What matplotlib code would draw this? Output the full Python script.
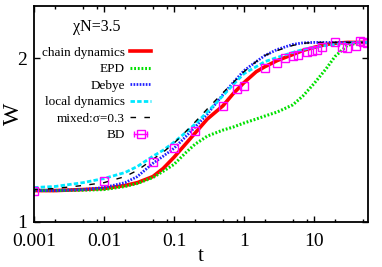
import numpy as np
import matplotlib
matplotlib.use("Agg")
import matplotlib.pyplot as plt
from matplotlib.lines import Line2D
from matplotlib.legend_handler import HandlerLine2D, HandlerTuple
from matplotlib.ticker import FixedLocator, NullFormatter, NullLocator

plt.rcParams['font.family'] = ['Liberation Serif', 'DejaVu Serif']

# --- data ---
t = [0.001, 0.002, 0.005, 0.01, 0.02, 0.03, 0.05, 0.07, 0.1, 0.15, 0.2, 0.3, 0.5,
     0.7, 1, 1.5, 2, 3, 5, 7, 10, 15, 20, 30, 45, 60]

w_chain = [1.142, 1.142, 1.147, 1.152, 1.167, 1.181, 1.212, 1.254, 1.315, 1.396, 1.457,
           1.547, 1.636, 1.722, 1.805, 1.891, 1.932, 1.983, 2.034, 2.070, 2.096, 2.123,
           2.133, 2.141, 2.141, 2.141]
w_epd = [1.142, 1.142, 1.144, 1.147, 1.162, 1.177, 1.207, 1.239, 1.276, 1.344, 1.390,
         1.439, 1.476, 1.495, 1.521, 1.547, 1.567, 1.594, 1.643, 1.707, 1.797, 1.916,
         2.017, 2.114, 2.141, 2.141]
w_debye = [1.142, 1.142, 1.147, 1.157, 1.181, 1.212, 1.282, 1.321, 1.366, 1.439, 1.495,
           1.580, 1.715, 1.805, 1.899, 1.974, 2.026, 2.078, 2.123, 2.137, 2.141, 2.141,
           2.141, 2.141, 2.141, 2.141]
w_local = [1.157, 1.162, 1.181, 1.202, 1.233, 1.265, 1.321, 1.355, 1.402, 1.464, 1.514,
           1.594, 1.707, 1.789, 1.875, 1.932, 1.974, 2.009, 2.052, 2.078, 2.096, 2.114,
           2.123, 2.133, 2.141, 2.141]
w_mixed = [1.147, 1.152, 1.167, 1.181, 1.212, 1.244, 1.304, 1.344, 1.396, 1.470, 1.527,
           1.615, 1.729, 1.805, 1.891, 1.974, 2.026, 2.069, 2.114, 2.133, 2.141, 2.141,
           2.141, 2.141, 2.141, 2.141]

t_bd = [0.001, 0.01, 0.05, 0.1, 0.2, 0.5, 0.8, 1, 2, 3, 3.9, 5, 6, 8, 9.5, 11, 13,
        20, 25, 30, 40, 45, 50, 58]
w_bd = [1.142, 1.187, 1.287, 1.366, 1.470, 1.637, 1.759, 1.781, 1.920, 1.958, 2.0,
        2.017, 2.034, 2.052, 2.061, 2.070, 2.096, 2.141, 2.096, 2.087, 2.105, 2.151,
        2.141, 2.133]

xticks = [0.001, 0.01, 0.1, 1, 10]
xtick_labels = ['0.001', '0.01', '0.1', '1', '10']
yticks = [1, 2]

fig = plt.figure(figsize=(3.82, 2.67), dpi=100)
ax = fig.add_axes([0.089, 0.169, 0.874, 0.809])

ax.plot(t, w_chain, color='#ff0000', lw=2.6, label='chain dynamics')
ax.plot(t, w_epd, color='#00e000', lw=2.2, ls=(0, (0.6, 0.6)), label='EPD')
ax.plot(t, w_debye, color='#2020ff', lw=2.0, ls=(0, (0.6, 0.5)), label='Debye')
ax.plot(t, w_local, color='#00e8ff', lw=2.0, ls=(0, (1.6, 0.8)), label='local dynamics')
ax.plot(t, w_mixed, color='black', lw=1.0, ls=(0, (4, 6)), label='mixed:\u03c3=0.3')
ax.plot(t_bd, w_bd, ls='none', marker='s', ms=6, mfc='none', mec='#ff00ff', mew=1.0)

ax.set_xscale('log')
ax.set_yscale('log')
ax.set_xlim(0.001, 59)
ax.set_ylim(1, 2.5)

ax.xaxis.set_major_locator(FixedLocator(xticks))
ax.set_xticklabels(xtick_labels)
minors = [m * d for d in [0.001, 0.01, 0.1, 1, 10] for m in (2, 5, 8)]
ax.xaxis.set_minor_locator(FixedLocator(minors))
ax.xaxis.set_minor_formatter(NullFormatter())
ax.yaxis.set_major_locator(FixedLocator(yticks))
ax.set_yticklabels(['1', '2'])
ax.yaxis.set_minor_locator(NullLocator())

ax.tick_params(which='both', direction='in', top=True, right=True, labelsize=14)
ax.tick_params(axis='x', pad=8)
ax.tick_params(axis='y', pad=5)
ax.tick_params(which='major', length=4, width=1)
ax.tick_params(which='minor', length=2.5, width=1)
for s in ax.spines.values():
    s.set_linewidth(1.3)

ax.set_xlabel('t', fontsize=15, labelpad=-2)
ax.set_ylabel('W', fontsize=17)
ax.yaxis.set_label_coords(-0.03, 0.5)

# legend with gnuplot-like BD entry (square + horizontal error bar)
handles, labels = ax.get_legend_handles_labels()
bd_bar = Line2D([], [], color='#ff00ff', lw=1, marker='|', ms=5, mew=1)
bd_sq = Line2D([], [], ls='none', marker='s', ms=6, mfc='none', mec='#ff00ff', mew=1)
handles.append((bd_bar, bd_sq))
labels.append('BD')
leg = ax.legend(handles, labels, loc='upper left', bbox_to_anchor=(0.0, 0.975),
                frameon=False, markerfirst=False, fontsize=9.5, title='\u03c7N=3.5',
                title_fontsize=11.5, handlelength=1.6, handletextpad=0.4,
                labelspacing=0.33, borderaxespad=0.2,
                handler_map={bd_bar: HandlerLine2D(numpoints=2),
                             tuple: HandlerTuple(ndivide=1)})
leg._legend_box.sep = 8

fig.savefig('out.png', dpi=100)
